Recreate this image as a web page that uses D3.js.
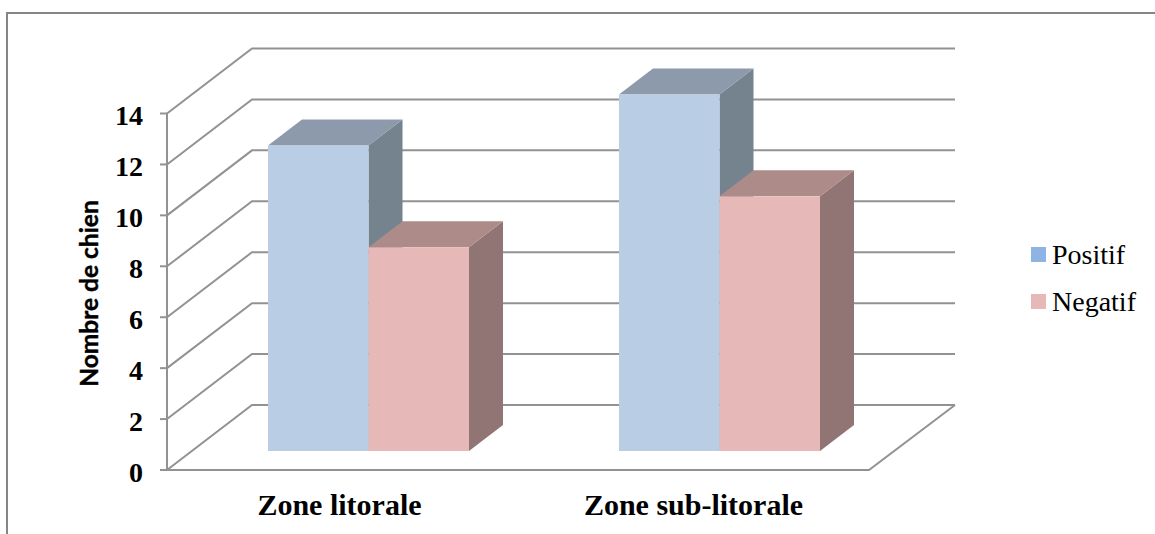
<!DOCTYPE html>
<html>
<head>
<meta charset="utf-8">
<script src="https://cdn.jsdelivr.net/npm/d3@7"></script>
<style>
html, body { margin: 0; padding: 0; background: #fff; overflow: hidden; }
text { fill: #000; }
</style>
</head>
<body>
<div id="chart"></div>
<script>
var categories = ["Zone litorale", "Zone sub-litorale"];
var seriesNames = ["Positif", "Negatif"];
var positif = [12, 14];
var negatif = [8, 10];
var yTicks = [0, 2, 4, 6, 8, 10, 12, 14];

var w = 1155, h = 534;
var grey = "#929292";
var serif = "'Liberation Serif', serif";

//Floor and wall of the 3d box
var wallDx = 85, wallDy = -65;
//How far the bars sit inside the box, and how deep they are
var barInsetX = 26, barInsetY = -19;
var barDx = 34, barDy = -26;
var pairWidth = 201;

var colors = {
  Positif: { front: "#b9cde5", top: "#8d9aab", side: "#75838f", key: "#8eb4e3" },
  Negatif: { front: "#e6b9b8", top: "#ad8b88", side: "#917574", key: "#e6b9b8" }
};

var svg = d3.select("#chart").append("svg")
  .attr("width", w)
  .attr("height", h)
  .style("display", "block");

//Outer frame, only top and left are inside the picture
svg.append("path")
  .attr("d", "M7,534V13H1155")
  .attr("fill", "none")
  .attr("stroke", "#868686")
  .attr("stroke-width", 2);

var y = d3.scaleLinear().domain([0, 14]).range([470, 113.5]);
var yBar = d3.scaleLinear().domain([0, 14]).range([y(0) + barInsetY, y(14) + barInsetY]);
var x = d3.scaleBand().domain(categories).range([167, 869]);
var xBar = d3.scaleBand().domain(seriesNames).range([0, pairWidth]);
var xLabel = d3.scalePoint().domain(categories).range([339.5, 693.5]);

//Gridlines: slanted on the side wall, then straight along the back wall
var grid = svg.append("g").attr("fill", "none").attr("stroke", grey).attr("stroke-width", 2);
yTicks.forEach(function(t) {
  grid.append("path").attr("d", "M167," + y(t) + "l" + wallDx + "," + wallDy + "H955");
});
//Floor edges
grid.append("path").attr("d", "M955," + (y(0) + wallDy) + "L869," + y(0) + "H167");
//Vertical axis and ticks
grid.append("path").attr("d", "M167," + y(14) + "V" + y(0));
yTicks.forEach(function(t) {
  grid.append("path").attr("d", "M160," + y(t) + "H167");
});

//Bars
function barGroup(name, values) {
  var c = colors[name];
  var g = svg.append("g").attr("class", "bars");
  categories.forEach(function(cat, i) {
    var x0 = x(cat) + (x.bandwidth() - pairWidth) / 2 + barInsetX + xBar(name);
    var x1 = x0 + xBar.bandwidth();
    var yt = yBar(values[i]), yb = yBar(0);
    g.append("path").attr("fill", c.side)
      .attr("d", "M" + x1 + "," + yt + "l" + barDx + "," + barDy + "V" + (yb + barDy) + "L" + x1 + "," + yb + "Z");
    g.append("path").attr("fill", c.top)
      .attr("d", "M" + x0 + "," + yt + "l" + barDx + "," + barDy + "H" + (x1 + barDx) + "L" + x1 + "," + yt + "Z");
    g.append("rect").attr("fill", c.front)
      .attr("x", x0).attr("y", yt)
      .attr("width", x1 - x0).attr("height", yb - yt);
  });
}
barGroup("Positif", positif);
barGroup("Negatif", negatif);

//Tick labels
svg.append("g").selectAll("text")
  .data(yTicks)
  .enter()
  .append("text")
  .attr("x", 143)
  .attr("y", function(d) { return y(d); })
  .attr("dy", "0.42em")
  .attr("text-anchor", "end")
  .style("font", "bold 28px " + serif)
  .text(function(d) { return d; });

svg.append("g").selectAll("text")
  .data(categories)
  .enter()
  .append("text")
  .attr("x", function(d) { return xLabel(d); })
  .attr("y", 515)
  .attr("text-anchor", "middle")
  .style("font", "bold 30px " + serif)
  .text(function(d) { return d; });

//Axis title
svg.append("text")
  .attr("transform", "translate(98,293.5) rotate(-90)")
  .attr("text-anchor", "middle")
  .style("font", "bold 24.5px Lato, sans-serif")
  .style("stroke", "#000")
  .style("stroke-width", 0.4)
  .text("Nombre de chien");

//Legend
var legend = svg.append("g").selectAll("g")
  .data(seriesNames)
  .enter()
  .append("g")
  .attr("transform", function(d, i) { return "translate(1031," + (247 + i * 47) + ")"; });
legend.append("rect")
  .attr("width", 15).attr("height", 15)
  .attr("fill", function(d) { return colors[d].key; });
legend.append("text")
  .attr("x", 21).attr("y", 17)
  .style("font", "28px " + serif)
  .text(function(d) { return d; });
</script>
</body>
</html>
